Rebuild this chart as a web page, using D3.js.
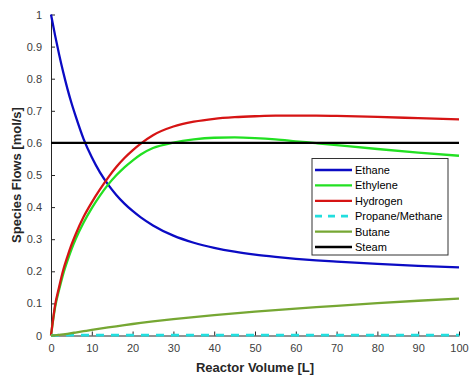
<!DOCTYPE html>
<html>
<head>
<meta charset="utf-8">
<script src="https://cdn.jsdelivr.net/npm/d3@7"></script>
<style>
  html, body { margin: 0; padding: 0; background: #fff; }
  svg { display: block; font-family: "Liberation Sans", Arial, sans-serif; }
</style>
</head>
<body>
<svg id="chart" width="471" height="377"></svg>
<script>
// Reactor volume [L] at which each species flow is given
const volume = [0, 1, 2, 3, 4, 5, 6, 8, 10, 12, 14, 16, 18, 20, 22, 25, 30, 35, 40, 45, 50, 55, 60, 65, 70, 80, 90, 100];

// Species flows [mol/s]
const ethane   = [1.0, 0.935, 0.875, 0.82, 0.77, 0.725, 0.685, 0.612, 0.555, 0.508, 0.47, 0.438, 0.411, 0.388, 0.368, 0.343, 0.311, 0.289, 0.273, 0.261, 0.252, 0.245, 0.239, 0.234, 0.23, 0.223, 0.217, 0.212];
const ethylene = [0, 0.088, 0.143, 0.192, 0.232, 0.268, 0.299, 0.352, 0.397, 0.436, 0.47, 0.499, 0.524, 0.545, 0.564, 0.584, 0.601, 0.611, 0.616, 0.617, 0.615, 0.611, 0.605, 0.599, 0.593, 0.581, 0.57, 0.56];
const hydrogen = [0, 0.094, 0.152, 0.204, 0.245, 0.282, 0.314, 0.37, 0.415, 0.455, 0.492, 0.525, 0.553, 0.577, 0.598, 0.624, 0.651, 0.666, 0.675, 0.68, 0.683, 0.685, 0.685, 0.685, 0.684, 0.681, 0.677, 0.673];
const propaneMethane = [0, 0.0005, 0.001, 0.001, 0.001, 0.001, 0.001, 0.001, 0.001, 0.001, 0.001, 0.001, 0.001, 0.001, 0.001, 0.001, 0.001, 0.001, 0.001, 0.001, 0.001, 0.001, 0.001, 0.001, 0.001, 0.001, 0.001, 0.001];
const butane   = [0, 0.0007, 0.002, 0.0036, 0.0054, 0.0073, 0.0093, 0.0133, 0.0173, 0.0212, 0.025, 0.0287, 0.0323, 0.0358, 0.0391, 0.0438, 0.051, 0.0575, 0.0635, 0.069, 0.0742, 0.0791, 0.0838, 0.0883, 0.0926, 0.1008, 0.1083, 0.115];
const steam    = [0.6, 0.6, 0.6, 0.6, 0.6, 0.6, 0.6, 0.6, 0.6, 0.6, 0.6, 0.6, 0.6, 0.6, 0.6, 0.6, 0.6, 0.6, 0.6, 0.6, 0.6, 0.6, 0.6, 0.6, 0.6, 0.6, 0.6, 0.6];

const seriesNames = ["Ethane", "Ethylene", "Hydrogen", "Propane/Methane", "Butane", "Steam"];
const seriesValues = [ethane, ethylene, hydrogen, propaneMethane, butane, steam];
const seriesColors = ["#0b0bc4", "#22e022", "#d61414", "#22dede", "#76a733", "#000000"];
const seriesDash = [null, null, null, "8,7", null, null];

const xTicks = [0, 10, 20, 30, 40, 50, 60, 70, 80, 90, 100];
const yTicks = [0, 0.1, 0.2, 0.3, 0.4, 0.5, 0.6, 0.7, 0.8, 0.9, 1];

const svg = d3.select("#chart");
const plotLeft = 51, plotRight = 459, plotTop = 14.5, plotBottom = 335.5;

const x = d3.scaleLinear().domain([0, 100]).range([plotLeft, plotRight]);
const y = d3.scaleLinear().domain([0, 1]).range([plotBottom, plotTop]);

const axisColor = "#262626";

// Axes with inward ticks, left and bottom only
const xAxis = svg.append("g")
  .attr("transform", `translate(0,${plotBottom})`)
  .call(d3.axisBottom(x).tickValues(xTicks).tickSizeInner(-4).tickSizeOuter(0).tickPadding(9).tickFormat(d3.format("d")));
const yAxis = svg.append("g")
  .attr("transform", `translate(${plotLeft},0)`)
  .call(d3.axisLeft(y).tickValues(yTicks).tickSizeInner(-4).tickSizeOuter(0).tickPadding(9).tickFormat(d => d === 0 || d === 1 ? String(d) : d3.format(".1f")(d)));

[xAxis, yAxis].forEach(g => {
  g.select(".domain").attr("stroke", axisColor).attr("stroke-width", 1);
  g.selectAll(".tick line").attr("stroke", axisColor);
  g.selectAll(".tick text").attr("fill", "#404040").style("font-size", "11px").style("font-family", "'Liberation Sans', Arial, sans-serif");
});

// Series lines
const line = d3.line()
  .x((d, i) => x(volume[i]))
  .y(d => y(d))
  .curve(d3.curveMonotoneX);

seriesValues.forEach((vals, k) => {
  svg.append("path")
    .datum(vals)
    .attr("fill", "none")
    .attr("stroke", seriesColors[k])
    .attr("stroke-width", seriesDash[k] ? 2.8 : 2.3)
    .attr("stroke-dasharray", seriesDash[k])
    .attr("d", line);
});

// Axis titles
svg.append("text")
  .attr("x", 255).attr("y", 372)
  .attr("text-anchor", "middle")
  .attr("font-weight", "bold").attr("font-size", 13)
  .attr("fill", "#262626")
  .text("Reactor Volume [L]");

svg.append("text")
  .attr("transform", "translate(21,175) rotate(-90)")
  .attr("text-anchor", "middle")
  .attr("font-weight", "bold").attr("font-size", 13)
  .attr("fill", "#262626")
  .text("Species Flows [mol/s]");

// Legend
const legend = svg.append("g");
legend.append("rect")
  .attr("x", 312).attr("y", 158.5).attr("width", 136).attr("height", 96.5)
  .attr("fill", "#fff").attr("stroke", "#333").attr("stroke-width", 1);

seriesNames.forEach((name, k) => {
  const cy = 170 + k * 15.4;
  legend.append("line")
    .attr("x1", 315).attr("x2", 352).attr("y1", cy).attr("y2", cy)
    .attr("stroke", seriesColors[k]).attr("stroke-width", seriesDash[k] ? 2.8 : 2.3)
    .attr("stroke-dasharray", seriesDash[k] ? "7,6" : null);
  legend.append("text")
    .attr("x", 355).attr("y", cy + 4)
    .attr("font-size", 11).attr("fill", "#000")
    .text(name);
});
</script>
</body>
</html>
